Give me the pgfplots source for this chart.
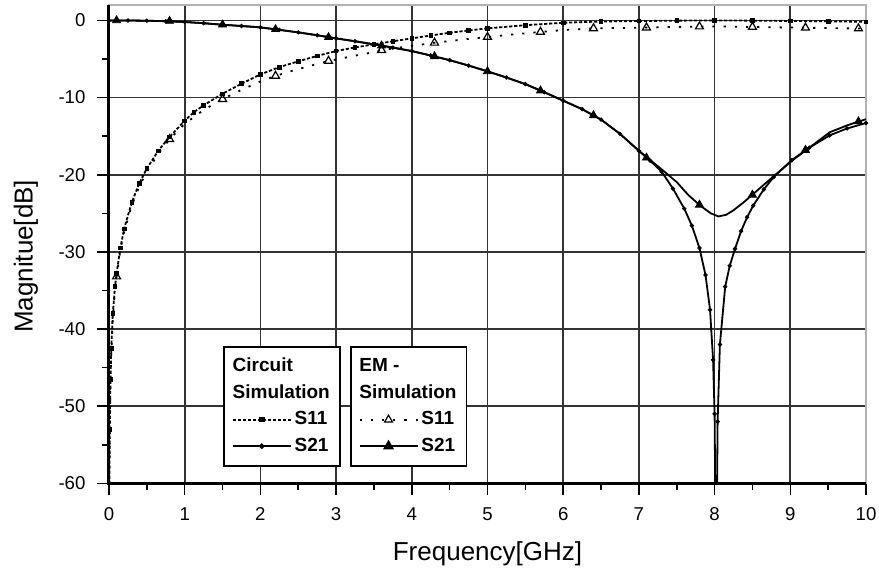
\documentclass[border=0pt]{standalone}
\usepackage{fontspec}
\setmainfont{Liberation Sans}
\usepackage{pgfplots}
\usepackage{pgfplotstable}
\pgfplotsset{compat=1.18}

% Circuit simulation S21
\pgfplotstableread{
f m
0 0
0.25 -0.01
0.5 -0.04
0.75 -0.1
1.0 -0.2
1.25 -0.36
1.5 -0.56
1.75 -0.72
2.0 -0.9
2.25 -1.22
2.5 -1.55
2.75 -1.92
3.0 -2.33
3.25 -2.7
3.5 -3.1
3.75 -3.52
4.0 -3.97
4.25 -4.55
4.5 -5.15
4.75 -5.85
5.0 -6.6
5.25 -7.4
5.5 -8.25
5.75 -9.3
6.0 -10.4
6.25 -11.5
6.5 -12.85
6.75 -14.7
7.0 -16.9
7.15 -18.2
7.3 -19.6
7.45 -21.8
7.6 -24.4
7.7 -26.6
7.8 -29.5
7.88 -33
7.94 -37.5
7.98 -44
8.0 -51
8.02 -75
8.04 -52
8.07 -42
8.14 -34.5
8.2 -31.8
8.27 -29.6
8.35 -27.3
8.43 -25.5
8.51 -24
8.65 -21.9
8.78 -20.3
9.02 -18.1
9.25 -16.5
9.52 -14.9
9.75 -14.0
10 -13.3
}\CtwoOne

% Circuit simulation S11
\pgfplotstableread{
f m
0.005 -62
0.01 -53
0.02 -46.5
0.03 -42.5
0.05 -38
0.08 -34.5
0.1 -32.8
0.15 -29.5
0.2 -27
0.3 -23.6
0.4 -21.1
0.5 -19.2
0.65 -16.9
0.8 -15.1
1.0 -13.0
1.12 -11.9
1.25 -11.0
1.5 -9.5
1.75 -8.2
2.0 -7.0
2.25 -6.05
2.5 -5.3
2.75 -4.6
3.0 -3.97
3.25 -3.5
3.5 -3.1
3.75 -2.7
4.0 -2.33
4.25 -1.95
4.5 -1.6
4.75 -1.3
5.0 -1.03
5.5 -0.62
6.0 -0.3
6.5 -0.14
7.0 -0.08
7.5 -0.03
8.0 0
8.5 -0.03
9.0 -0.07
9.5 -0.12
10 -0.18
}\ConeOne

% EM simulation S21
\pgfplotstableread{
f m
0 0
0.25 -0.01
0.5 -0.04
0.75 -0.1
1.0 -0.2
1.25 -0.36
1.5 -0.56
1.75 -0.72
2.0 -0.9
2.25 -1.22
2.5 -1.55
2.75 -1.92
3.0 -2.33
3.25 -2.7
3.5 -3.1
3.75 -3.52
4.0 -3.97
4.25 -4.55
4.5 -5.15
4.75 -5.85
5.0 -6.6
5.25 -7.4
5.5 -8.25
5.75 -9.3
6.0 -10.4
6.25 -11.5
6.5 -12.85
6.75 -14.7
7.0 -16.9
7.15 -18.1
7.3 -19.3
7.5 -20.95
7.65 -22.6
7.81 -24.0
7.95 -25.0
8.05 -25.4
8.15 -25.2
8.25 -24.6
8.38 -23.6
8.51 -22.5
8.65 -21.3
8.78 -20.2
9.02 -18.2
9.25 -16.5
9.52 -14.5
9.75 -13.6
10 -12.8
}\EtwoOne

% EM simulation S11
\pgfplotstableread{
f m
0.005 -58
0.01 -52
0.02 -46
0.05 -38.5
0.08 -35
0.1 -33.2
0.15 -29.8
0.2 -27.4
0.3 -24
0.4 -21.5
0.5 -19.6
0.65 -17.3
0.8 -15.4
1.0 -13.4
1.25 -11.6
1.5 -10.2
1.75 -9.0
2.0 -7.9
2.2 -7.2
2.43 -6.5
2.65 -5.9
2.9 -5.26
3.25 -4.57
3.45 -4.2
3.6 -3.85
4.0 -3.3
4.3 -2.9
4.65 -2.5
5.0 -2.15
5.35 -1.8
5.7 -1.5
6.0 -1.25
6.4 -1.03
6.75 -0.98
7.1 -0.93
7.45 -0.85
7.8 -0.8
8.15 -0.8
8.5 -0.85
8.85 -0.9
9.2 -0.95
9.55 -1.0
9.9 -1.05
10 -1.07
}\EoneOne

% EM triangle marker positions
\pgfplotstableread{
f m
0.1 -33.2
0.8 -15.4
1.5 -10.2
2.2 -7.2
2.9 -5.26
3.6 -3.85
4.3 -2.9
5.0 -2.15
5.7 -1.5
6.4 -1.03
7.1 -0.93
7.8 -0.8
8.5 -0.85
9.2 -0.95
9.9 -1.05
}\EoneOneM

\pgfplotstableread{
f m
0.1 0
0.8 -0.08
1.5 -0.55
2.2 -1.15
2.9 -2.18
3.6 -3.27
4.3 -4.65
5.0 -6.6
5.7 -9.1
6.4 -12.3
7.1 -17.8
7.8 -23.9
8.5 -22.6
9.2 -16.8
9.9 -13.1
}\EtwoOneM

\newcommand{\hdr}[1]{\hspace*{-31pt}\makebox[48pt][l]{#1}}

\pgfplotsset{
  common/.style={
    scale only axis, width=378.5pt, height=239.2pt,
    xmin=0, xmax=10, ymin=-60, ymax=2,
    legend cell align=left,
    legend image code/.code={\draw[mark repeat=2,mark phase=2,##1] plot coordinates {(0pt,0pt) (14.5pt,0pt) (29pt,0pt)};},
  },
  legbox/.style={
    draw=black, line width=0.9pt, fill=white,
    font=\fontsize{9.5}{11}\selectfont\bfseries,
    inner xsep=4pt, inner ysep=4pt, row sep=1.2pt,
    nodes={inner sep=1.5pt, text height=7pt, text depth=2pt},
  },
}

\tikzset{
  c11/.style={black, line width=0.9pt, dash pattern=on 1.6pt off 0.9pt},
  c21/.style={black, line width=0.9pt, solid},
  e11/.style={black, line width=0.9pt, dash pattern=on 1.1pt off 4.5pt},
  e21/.style={black, line width=0.9pt, solid},
}

\begin{document}
\begin{tikzpicture}
\begin{axis}[common,
  axis line style={draw=gray!60, line width=0.7pt},
  xtick={0,1,...,10}, ytick={-60,-50,...,0},
  minor x tick num=1, minor y tick num=1,
  tick pos=left, tick align=outside,
  major tick length=6pt, minor tick length=3.5pt,
  tick style={black, line width=0.8pt},
  grid=major, major grid style={black!80, line width=0.85pt},
  /pgf/number format/assume math mode=true,
  ticklabel style={font=\fontsize{9.3}{11}\selectfont},
  xticklabel style={anchor=base, inner sep=0pt, yshift=-12.8pt},
  yticklabel style={anchor=east, inner sep=0pt, xshift=-5.6pt},
  every axis x label/.style={at={(rel axis cs:0.5,0)}, yshift=-38.5pt, anchor=base},
  every axis y label/.style={at={(rel axis cs:0,0.4745)}, xshift=-41.5pt, rotate=90, anchor=center},
  label style={font=\fontsize{13}{15}\selectfont},
  xlabel={Frequency[GHz]}, ylabel={Magnitue[dB]},
  legend style={legbox, at={(axis cs:1.506,-42.2)}, anchor=north west},
  after end axis/.code={
    \draw[black, line width=1.5pt] (rel axis cs:0,1) -- (rel axis cs:0,0) -- (rel axis cs:1,0);
    \coordinate (BL) at (rel axis cs:0,0);
    \coordinate (TR) at (rel axis cs:1,1);
  },
]
\addplot[e11, forget plot] table[x=f,y=m] {\EoneOne};
\addplot[e21, forget plot] table[x=f,y=m] {\EtwoOne};
\addplot[c11, forget plot] table[x=f,y=m] {\ConeOne};
\addplot[c21, forget plot] table[x=f,y=m] {\CtwoOne};
\addplot[only marks, mark=square*, mark size=0.9pt, black, forget plot, restrict y to domain=-60:2] table[x=f,y=m] {\ConeOne};
\addplot[only marks, mark=*, mark size=0.9pt, black, forget plot, restrict y to domain=-60:2] table[x=f,y=m] {\CtwoOne};
\addplot[only marks, mark=triangle, mark size=2.3pt, black, line width=0.6pt, forget plot] table[x=f,y=m] {\EoneOneM};
\addplot[only marks, mark=triangle*, mark size=2.3pt, black, forget plot] table[x=f,y=m] {\EtwoOneM};
\addlegendimage{empty legend}
\addlegendimage{empty legend}
\addlegendimage{c11, mark=square*, mark size=0.9pt, mark options={solid}}
\addlegendimage{c21, mark=*, mark size=0.9pt}
\legend{\hdr{Circuit}, \hdr{Simulation}, S11, S21}
\end{axis}
\begin{axis}[common, hide axis,
  legend style={legbox, at={(axis cs:3.18,-42.2)}, anchor=north west},
]
\addlegendimage{empty legend}
\addlegendimage{empty legend}
\addlegendimage{e11, mark=triangle, mark size=2.3pt, mark options={solid, line width=0.6pt}}
\addlegendimage{e21, mark=triangle*, mark size=2.3pt}
\legend{\hdr{EM -}, \hdr{Simulation}, S11, S21}
\end{axis}
\pgfresetboundingbox
\path ([shift={(-54.5pt,-46.5pt)}]BL) rectangle ([shift={(6.5pt,2.5pt)}]TR);
\end{tikzpicture}
\end{document}
